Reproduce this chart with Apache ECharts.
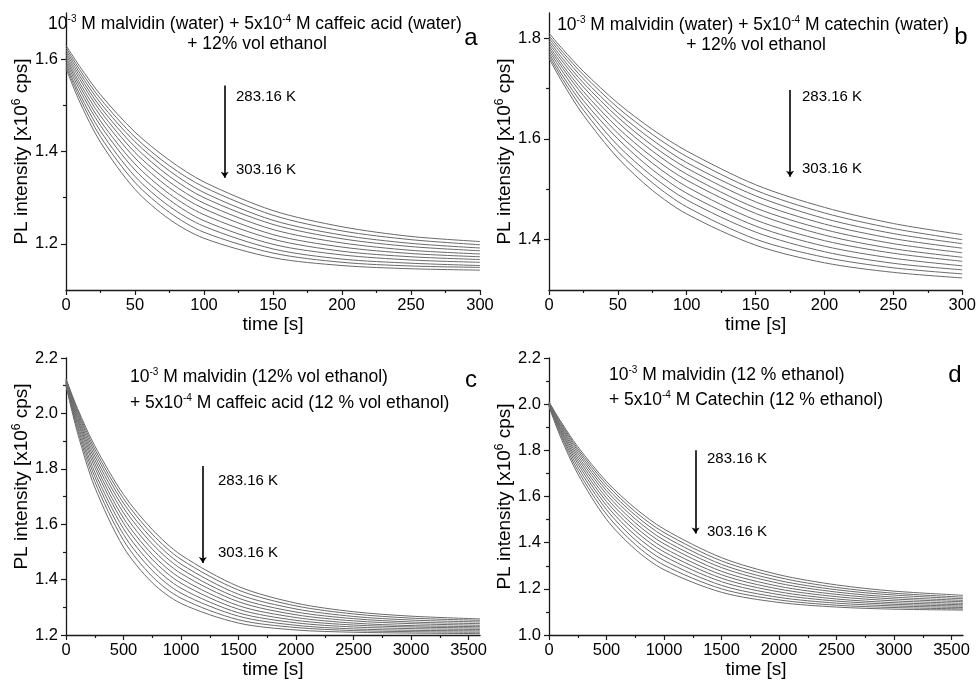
<!DOCTYPE html>
<html><head><meta charset="utf-8">
<script src="https://cdn.jsdelivr.net/npm/echarts@6/dist/echarts.min.js"></script>
<style>html,body{margin:0;padding:0;background:#fff}#c{width:979px;height:681px}</style>
</head><body><div id="c"></div>
<script>
const temps = ['283.16 K','285.16 K','287.16 K','289.16 K','291.16 K','293.16 K','295.16 K','297.16 K','299.16 K','301.16 K','303.16 K'];
const timeAB = [0,10,25,50,75,100,150,200,250,300];
const timeCD = [0,100,250,500,750,1000,1500,2000,2500,3000,3600];

const curvesA = [
  [1.630,1.584,1.523,1.442,1.381,1.334,1.272,1.237,1.216,1.205],
  [1.625,1.577,1.514,1.431,1.369,1.323,1.262,1.228,1.209,1.198],
  [1.620,1.570,1.505,1.421,1.358,1.311,1.251,1.219,1.201,1.191],
  [1.615,1.563,1.496,1.410,1.346,1.300,1.242,1.211,1.194,1.185],
  [1.610,1.556,1.487,1.398,1.334,1.288,1.231,1.202,1.186,1.178],
  [1.605,1.548,1.477,1.386,1.321,1.276,1.220,1.193,1.179,1.172],
  [1.600,1.541,1.466,1.373,1.308,1.263,1.210,1.184,1.172,1.166],
  [1.595,1.533,1.456,1.360,1.295,1.250,1.199,1.176,1.165,1.160],
  [1.590,1.524,1.444,1.346,1.281,1.238,1.189,1.167,1.158,1.153],
  [1.585,1.516,1.432,1.333,1.268,1.225,1.180,1.160,1.152,1.149],
  [1.580,1.507,1.420,1.318,1.253,1.212,1.170,1.153,1.146,1.143]
];
const curvesB = [
  [1.810,1.778,1.734,1.671,1.619,1.576,1.509,1.464,1.432,1.410],
  [1.805,1.772,1.727,1.662,1.609,1.565,1.498,1.453,1.422,1.400],
  [1.800,1.766,1.719,1.652,1.598,1.553,1.487,1.442,1.412,1.392],
  [1.795,1.759,1.711,1.643,1.587,1.542,1.475,1.431,1.402,1.383],
  [1.790,1.753,1.703,1.633,1.576,1.530,1.463,1.420,1.392,1.374],
  [1.785,1.746,1.694,1.622,1.564,1.518,1.452,1.409,1.382,1.365],
  [1.780,1.740,1.686,1.611,1.552,1.505,1.439,1.398,1.373,1.357],
  [1.775,1.733,1.676,1.600,1.539,1.492,1.427,1.387,1.363,1.348],
  [1.770,1.725,1.667,1.587,1.526,1.479,1.415,1.376,1.353,1.340],
  [1.765,1.718,1.657,1.575,1.513,1.465,1.401,1.365,1.344,1.332],
  [1.760,1.711,1.647,1.562,1.498,1.451,1.389,1.354,1.335,1.324]
];
const curvesC = [
  [2.125,2.018,1.883,1.707,1.581,1.489,1.375,1.315,1.284,1.268,1.258],
  [2.122,2.012,1.871,1.692,1.564,1.473,1.362,1.305,1.276,1.261,1.253],
  [2.120,2.005,1.859,1.676,1.547,1.456,1.347,1.294,1.267,1.254,1.247],
  [2.118,1.997,1.846,1.659,1.529,1.439,1.333,1.283,1.259,1.247,1.241],
  [2.115,1.989,1.833,1.641,1.510,1.422,1.320,1.273,1.251,1.241,1.235],
  [2.112,1.981,1.819,1.622,1.491,1.404,1.306,1.263,1.243,1.234,1.230],
  [2.110,1.973,1.805,1.604,1.473,1.387,1.293,1.253,1.236,1.229,1.225],
  [2.108,1.963,1.788,1.584,1.453,1.369,1.280,1.244,1.229,1.223,1.220],
  [2.105,1.953,1.772,1.563,1.433,1.351,1.268,1.235,1.222,1.217,1.215],
  [2.102,1.942,1.754,1.542,1.411,1.333,1.255,1.227,1.216,1.212,1.210],
  [2.100,1.930,1.734,1.517,1.389,1.314,1.243,1.218,1.210,1.207,1.205]
];
const curvesD = [
  [2.010,1.927,1.816,1.665,1.549,1.459,1.335,1.261,1.217,1.190,1.172],
  [2.008,1.921,1.807,1.653,1.534,1.444,1.321,1.249,1.206,1.181,1.164],
  [2.006,1.916,1.798,1.639,1.519,1.428,1.306,1.236,1.196,1.173,1.157],
  [2.004,1.909,1.788,1.625,1.503,1.411,1.292,1.224,1.186,1.164,1.150],
  [2.002,1.904,1.777,1.610,1.486,1.395,1.276,1.211,1.176,1.156,1.144],
  [2.000,1.897,1.766,1.594,1.469,1.377,1.261,1.199,1.166,1.148,1.137],
  [1.998,1.890,1.754,1.578,1.451,1.360,1.246,1.187,1.156,1.140,1.131],
  [1.996,1.884,1.742,1.561,1.432,1.342,1.231,1.175,1.147,1.133,1.125],
  [1.994,1.876,1.728,1.543,1.412,1.323,1.215,1.163,1.138,1.126,1.119],
  [1.992,1.868,1.713,1.523,1.392,1.303,1.200,1.152,1.129,1.119,1.113],
  [1.990,1.858,1.698,1.501,1.371,1.283,1.185,1.141,1.121,1.112,1.108]
];

const xTicksAB = [0,50,100,150,200,250,300];
const xMinorAB = [25,75,125,175,225,275];
const xTicksCD = [0,500,1000,1500,2000,2500,3000,3500];
const xMinorCD = [250,750,1250,1750,2250,2750,3250];
const yTicksA = [1.2,1.4,1.6];  const yMinorA = [1.3,1.5];
const yTicksB = [1.4,1.6,1.8];  const yMinorB = [1.5,1.7];
const yTicksC = [1.2,1.4,1.6,1.8,2.0,2.2]; const yMinorC = [1.3,1.5,1.7,1.9,2.1];
const yTicksD = [1.0,1.2,1.4,1.6,1.8,2.0,2.2]; const yMinorD = [1.1,1.3,1.5,1.7,1.9,2.1];

const arrowA = [[115,1.543],[115,1.343]];
const arrowB = [[175,1.697],[175,1.525]];
const arrowC = [[1190,1.81],[1190,1.46]];
const arrowD = [[1275,1.80],[1275,1.44]];

const FONT = 'Liberation Sans, Arial, sans-serif';
const panels = [
  {grid:{left:66,top:13,width:414,height:277}, xr:[0,300], yr:[1.1,1.7], t:timeAB, c:curvesA, xt:xTicksAB, xm:xMinorAB, yt:yTicksA, ym:yMinorA, arrow:arrowA, namePad:0},
  {grid:{left:549,top:13,width:414,height:277}, xr:[0,300], yr:[1.3,1.85], t:timeAB, c:curvesB, xt:xTicksAB, xm:xMinorAB, yt:yTicksB, ym:yMinorB, arrow:arrowB, namePad:0},
  {grid:{left:66,top:358,width:414,height:277}, xr:[0,3600], yr:[1.2,2.2], t:timeCD, c:curvesC, xt:xTicksCD, xm:xMinorCD, yt:yTicksC, ym:yMinorC, arrow:arrowC, namePad:40},
  {grid:{left:549,top:358,width:414,height:277}, xr:[0,3600], yr:[1.0,2.2], t:timeCD, c:curvesD, xt:xTicksCD, xm:xMinorCD, yt:yTicksD, ym:yMinorD, arrow:arrowD, namePad:0}
];

const axisColor = '#1a1a1a';
const grids = [], xAxes = [], yAxes = [], series = [];
panels.forEach((p, k) => {
  grids.push(Object.assign({containLabel:false}, p.grid));
  xAxes.push({
    type:'value', gridIndex:k, min:p.xr[0], max:p.xr[1], position:'bottom',
    axisLine:{show:true, onZero:false, lineStyle:{color:axisColor, width:1.3}},
    axisTick:{show:true, customValues:p.xt, length:5, lineStyle:{color:axisColor, width:1.2}},
    axisLabel:{customValues:p.xt, fontSize:16.5, color:'#000', fontFamily:FONT, margin:7,
      formatter:v => String(Math.round(v))},
    splitLine:{show:false},
    name:'time [s]', nameLocation:'middle', nameGap:25,
    nameTextStyle:{fontSize:19, color:'#000', fontFamily:FONT}
  });
  xAxes.push({
    type:'value', gridIndex:k, min:p.xr[0], max:p.xr[1], position:'bottom',
    axisLine:{show:false, onZero:false},
    axisTick:{show:true, customValues:p.xm, length:3, lineStyle:{color:axisColor, width:1.2}},
    axisLabel:{show:false}, splitLine:{show:false}
  });
  yAxes.push({
    type:'value', gridIndex:k, min:p.yr[0], max:p.yr[1], position:'left',
    axisLine:{show:true, onZero:false, lineStyle:{color:axisColor, width:1.3}},
    axisTick:{show:true, customValues:p.yt, length:5, lineStyle:{color:axisColor, width:1.2}},
    axisLabel:{customValues:p.yt, fontSize:16.5, color:'#000', fontFamily:FONT, margin:8,
      formatter:v => Number(v).toFixed(1)},
    splitLine:{show:false},
    name:'{n|PL intensity [x10}{s|6}{n| cps]}', nameLocation:'middle', nameGap:33,
    nameTextStyle:{color:'#000', fontFamily:FONT, fontSize:19, padding:[0,0,0,p.namePad],
      rich:{n:{fontSize:19, fontFamily:FONT, color:'#000'},
            s:{fontSize:12, fontFamily:FONT, color:'#000', verticalAlign:'bottom', padding:[0,0,9,0]}}}
  });
  yAxes.push({
    type:'value', gridIndex:k, min:p.yr[0], max:p.yr[1], position:'left',
    axisLine:{show:false, onZero:false},
    axisTick:{show:true, customValues:p.ym, length:3, lineStyle:{color:axisColor, width:1.2}},
    axisLabel:{show:false}, splitLine:{show:false}
  });
  p.c.forEach((vals, i) => {
    const s = {
      type:'line', name:temps[i], xAxisIndex:2*k, yAxisIndex:2*k,
      data:p.t.map((t, j) => [t, vals[j]]),
      showSymbol:false, symbol:'none', smooth:0.3,
      lineStyle:{color:'#6a6a6a', width:1}, silent:true, animation:false
    };
    if (i === 0) {
      s.markLine = {
        silent:true, symbol:['none','arrow'], symbolSize:6, animation:false,
        label:{show:false}, lineStyle:{color:'#000', width:1.6, type:'solid'},
        emphasis:{disabled:true},
        data:[[{coord:p.arrow[0]},{coord:p.arrow[1]}]]
      };
    }
    series.push(s);
  });
});

const rich = {
  n:{fontSize:17.5, fontFamily:FONT, fill:'#000'},
  s:{fontSize:10, fontFamily:FONT, fill:'#000', verticalAlign:'bottom', padding:[0,0,9,0]}
};
function rtext(x, y, text, align) {
  return {type:'text', x:x, y:y, silent:true,
    style:{text:text, rich:rich, fontSize:17.5, fontFamily:FONT, fill:'#000', align:align, verticalAlign:'middle'}};
}
function ptext(x, y, text, size, align) {
  return {type:'text', x:x, y:y, silent:true,
    style:{text:text, fontSize:size, fontFamily:FONT, fill:'#000', align:align||'left', verticalAlign:'middle'}};
}
const graphics = [
  rtext(255, 24, '{n|10}{s|-3}{n| M malvidin (water) + 5x10}{s|-4}{n| M caffeic acid (water)}', 'center'),
  rtext(257, 44, '{n|+ 12% vol ethanol}', 'center'),
  ptext(471, 38, 'a', 24, 'center'),
  rtext(753, 25, '{n|10}{s|-3}{n| M malvidin (water) + 5x10}{s|-4}{n| M catechin (water)}', 'center'),
  rtext(756, 45, '{n|+ 12% vol ethanol}', 'center'),
  ptext(961, 37, 'b', 24, 'center'),
  rtext(130, 377, '{n|10}{s|-3}{n| M malvidin (12% vol ethanol)}', 'left'),
  rtext(130, 403, '{n|+ 5x10}{s|-4}{n| M caffeic acid (12 % vol ethanol)}', 'left'),
  ptext(471, 380, 'c', 24, 'center'),
  rtext(609, 375, '{n|10}{s|-3}{n| M malvidin (12 % ethanol)}', 'left'),
  rtext(609, 400, '{n|+ 5x10}{s|-4}{n| M Catechin (12 % ethanol)}', 'left'),
  ptext(955, 375, 'd', 24, 'center'),
  ptext(236, 97, '283.16 K', 15), ptext(236, 170, '303.16 K', 15),
  ptext(802, 97, '283.16 K', 15), ptext(802, 169, '303.16 K', 15),
  ptext(218, 481, '283.16 K', 15), ptext(218, 553, '303.16 K', 15),
  ptext(707, 459, '283.16 K', 15), ptext(707, 532, '303.16 K', 15)
];

const chart = echarts.init(document.getElementById('c'), null, {renderer:'canvas'});
chart.setOption({
  backgroundColor:'#fff', animation:false,
  grid:grids, xAxis:xAxes, yAxis:yAxes, series:series, graphic:graphics
});
</script></body></html>
